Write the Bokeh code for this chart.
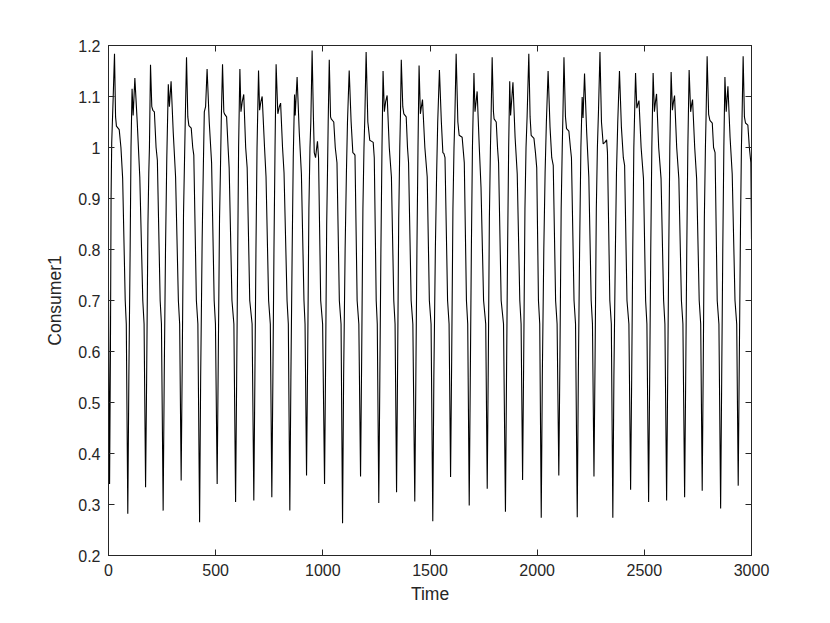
from bokeh.plotting import figure
from bokeh.models import LinearAxis, FixedTicker, CustomJSTickFormatter, Range1d
from bokeh.embed import file_html
from bokeh.resources import INLINE

# Time axis samples (one row per oscillation cycle)
time = [
    0, 5, 9, 12, 15, 22, 28, 33, 37, 50, 58, 66, 78, 83,
    90, 95, 101, 105, 110, 115, 123, 134, 146, 160, 166,
    173, 178, 184, 188, 191, 196, 202, 207, 214, 222, 228, 241, 247,
    255, 260, 266, 272, 279, 284, 292, 302, 313, 326, 332,
    339, 344, 350, 354, 358, 364, 370, 375, 386, 393, 398, 410, 417,
    425, 430, 437, 442, 447, 453, 460, 470, 481, 493, 499,
    507, 512, 518, 522, 526, 532, 538, 541, 551, 558, 563, 576, 585,
    593, 598, 603, 607, 613, 618, 624, 631, 640, 647, 659, 670,
    678, 683, 688, 693, 700, 705, 711, 717, 728, 735, 747, 755,
    762, 767, 772, 777, 782, 790, 797, 803, 812, 819, 833, 839,
    846, 851, 857, 862, 868, 871, 880, 890, 900, 912, 917,
    924, 929, 935, 940, 944, 950, 956, 960, 966, 970, 975, 980, 990, 999,
    1008, 1013, 1018, 1022, 1025, 1030, 1036, 1039, 1051, 1058, 1066, 1077, 1085,
    1092, 1097, 1104, 1110, 1115, 1123, 1132, 1140, 1145, 1150, 1160, 1168,
    1176, 1181, 1187, 1192, 1196, 1202, 1210, 1219, 1228, 1235, 1240, 1249, 1254,
    1261, 1266, 1271, 1276, 1281, 1287, 1293, 1300, 1310, 1320, 1331, 1337,
    1344, 1349, 1354, 1359, 1362, 1366, 1373, 1378, 1389, 1395, 1400, 1412, 1420,
    1429, 1434, 1439, 1444, 1449, 1455, 1460, 1465, 1476, 1487, 1497, 1505,
    1513, 1518, 1525, 1531, 1536, 1544, 1553, 1560, 1565, 1570, 1582, 1589,
    1596, 1601, 1607, 1612, 1616, 1622, 1630, 1636, 1650, 1656, 1660, 1670, 1676,
    1683, 1688, 1693, 1698, 1705, 1710, 1715, 1720, 1730, 1738, 1750, 1760,
    1767, 1772, 1777, 1782, 1785, 1790, 1796, 1799, 1809, 1815, 1820, 1832, 1843,
    1852, 1857, 1862, 1867, 1872, 1876, 1887, 1897, 1907, 1919, 1925,
    1932, 1937, 1943, 1948, 1953, 1961, 1967, 1972, 1985, 1992, 1998, 2006, 2012,
    2019, 2024, 2031, 2037, 2043, 2051, 2060, 2068, 2075, 2086, 2093,
    2101, 2106, 2112, 2117, 2120, 2125, 2132, 2137, 2148, 2155, 2160, 2172, 2179,
    2187, 2192, 2198, 2204, 2210, 2214, 2221, 2231, 2241, 2252, 2258,
    2265, 2270, 2276, 2281, 2286, 2293, 2300, 2308, 2316, 2324, 2328, 2339, 2346,
    2353, 2358, 2365, 2370, 2376, 2384, 2393, 2402, 2408, 2419, 2428,
    2436, 2441, 2446, 2451, 2459, 2465, 2470, 2475, 2485, 2496, 2506, 2512,
    2520, 2525, 2530, 2535, 2541, 2547, 2552, 2557, 2567, 2578, 2590, 2596,
    2604, 2609, 2614, 2619, 2625, 2631, 2636, 2641, 2651, 2661, 2673, 2680,
    2688, 2693, 2698, 2703, 2709, 2716, 2721, 2725, 2735, 2744, 2756, 2763,
    2770, 2775, 2780, 2785, 2788, 2793, 2800, 2806, 2817, 2823, 2830, 2840, 2848,
    2856, 2861, 2866, 2871, 2876, 2882, 2890, 2900, 2910, 2923, 2931,
    2938, 2943, 2949, 2953, 2956, 2961, 2967, 2972, 2983, 2990, 2997, 3000,
]

# Consumer1 values at those times
consumer1 = [
    0.72, 0.34, 0.60, 0.90, 1.01, 1.10, 1.184, 1.06, 1.042, 1.035, 1.0, 0.94, 0.70, 0.654,
    0.282, 0.55, 0.80, 1.0, 1.115, 1.063, 1.136, 1.05, 0.942, 0.70, 0.654,
    0.334, 0.55, 0.85, 0.95, 1.0, 1.162, 1.08, 1.073, 1.07, 1.0, 0.975, 0.70, 0.654,
    0.288, 0.55, 0.80, 0.98, 1.124, 1.08, 1.13, 1.03, 0.942, 0.70, 0.654,
    0.347, 0.58, 0.87, 0.96, 1.05, 1.177, 1.06, 1.043, 1.038, 1.0, 0.985, 0.70, 0.654,
    0.265, 0.55, 0.82, 0.95, 1.07, 1.08, 1.154, 1.05, 0.97, 0.70, 0.654,
    0.34, 0.58, 0.86, 0.95, 1.05, 1.163, 1.07, 1.066, 1.06, 1.0, 0.96, 0.70, 0.654,
    0.305, 0.55, 0.80, 1.0, 1.154, 1.07, 1.09, 1.104, 1.0, 0.96, 0.70, 0.654,
    0.308, 0.55, 0.80, 1.0, 1.151, 1.073, 1.09, 1.10, 1.0, 0.942, 0.70, 0.654,
    0.314, 0.55, 0.80, 1.0, 1.163, 1.066, 1.08, 1.087, 1.0, 0.95, 0.70, 0.654,
    0.288, 0.55, 0.80, 0.98, 1.104, 1.063, 1.138, 1.03, 0.948, 0.70, 0.654,
    0.357, 0.58, 0.88, 1.0, 1.05, 1.19, 1.06, 0.99, 0.98, 0.995, 1.012, 0.98, 0.70, 0.654,
    0.34, 0.58, 0.85, 0.96, 1.05, 1.172, 1.06, 1.056, 1.05, 1.0, 0.97, 0.70, 0.654,
    0.263, 0.55, 0.80, 0.95, 1.05, 1.151, 1.05, 0.99, 0.988, 0.985, 0.70, 0.654,
    0.355, 0.58, 0.88, 1.0, 1.06, 1.187, 1.05, 1.014, 1.012, 1.01, 0.98, 0.70, 0.654,
    0.303, 0.55, 0.80, 1.0, 1.15, 1.07, 1.09, 1.102, 1.0, 0.942, 0.70, 0.654,
    0.324, 0.58, 0.86, 1.0, 1.06, 1.172, 1.08, 1.066, 1.06, 1.0, 0.97, 0.70, 0.654,
    0.306, 0.55, 0.80, 1.0, 1.161, 1.066, 1.08, 1.094, 1.0, 0.942, 0.70, 0.654,
    0.267, 0.55, 0.80, 0.95, 1.05, 1.152, 1.05, 0.99, 0.988, 0.98, 0.70, 0.654,
    0.354, 0.58, 0.88, 1.0, 1.06, 1.184, 1.05, 1.024, 1.02, 0.99, 0.97, 0.70, 0.654,
    0.298, 0.55, 0.80, 1.0, 1.146, 1.07, 1.09, 1.11, 1.0, 0.922, 0.70, 0.654,
    0.331, 0.58, 0.86, 1.0, 1.06, 1.177, 1.07, 1.056, 1.05, 1.0, 0.97, 0.70, 0.654,
    0.286, 0.55, 0.80, 1.0, 1.13, 1.063, 1.128, 1.02, 0.948, 0.70, 0.654,
    0.348, 0.58, 0.88, 1.0, 1.06, 1.184, 1.06, 1.024, 1.018, 0.99, 0.96, 0.70, 0.654,
    0.274, 0.55, 0.80, 0.95, 1.05, 1.15, 1.04, 0.98, 0.965, 0.70, 0.654,
    0.357, 0.58, 0.88, 1.0, 1.06, 1.177, 1.06, 1.037, 1.032, 1.0, 0.98, 0.70, 0.654,
    0.275, 0.55, 0.80, 1.0, 1.099, 1.058, 1.145, 1.03, 0.942, 0.70, 0.654,
    0.355, 0.58, 0.88, 1.0, 1.07, 1.187, 1.05, 1.007, 1.01, 1.015, 0.99, 0.70, 0.654,
    0.274, 0.55, 0.80, 0.95, 1.05, 1.15, 1.04, 0.98, 0.965, 0.70, 0.654,
    0.329, 0.55, 0.80, 1.0, 1.146, 1.077, 1.085, 1.092, 1.0, 0.939, 0.70, 0.654,
    0.305, 0.55, 0.80, 1.0, 1.146, 1.07, 1.09, 1.105, 1.0, 0.939, 0.70, 0.654,
    0.308, 0.55, 0.80, 1.0, 1.148, 1.073, 1.09, 1.102, 1.0, 0.939, 0.70, 0.654,
    0.314, 0.55, 0.80, 1.0, 1.152, 1.07, 1.085, 1.094, 1.0, 0.939, 0.70, 0.654,
    0.327, 0.58, 0.86, 1.0, 1.06, 1.179, 1.065, 1.053, 1.048, 1.0, 0.99, 0.70, 0.654,
    0.292, 0.55, 0.80, 1.0, 1.138, 1.07, 1.12, 1.02, 0.948, 0.70, 0.654,
    0.337, 0.58, 0.86, 1.0, 1.06, 1.179, 1.06, 1.048, 1.044, 1.0, 0.97, 0.82,
]

x_ticks = [0, 500, 1000, 1500, 2000, 2500, 3000]
y_ticks = [0.2, 0.3, 0.4, 0.5, 0.6, 0.7, 0.8, 0.9, 1.0, 1.1, 1.2]
x_label = "Time"
y_label = "Consumer1"

assert len(time) == len(consumer1)

AX = "#262626"
FONT = "Liberation Sans"

p = figure(
    width=822, height=615,
    x_range=Range1d(0, 3000), y_range=Range1d(0.2, 1.2),
    output_backend="svg", toolbar_location=None,
    min_border_left=108, min_border_right=71,
    min_border_top=45, min_border_bottom=60,
    x_axis_label=x_label, y_axis_label=y_label,
)

p.line(time, consumer1, line_color="black", line_width=1.1)

p.grid.visible = False
p.outline_line_color = AX
p.outline_line_width = 1
p.background_fill_color = "white"
p.border_fill_color = "white"

yfmt = CustomJSTickFormatter(code="return (Math.round(tick*10)/10).toString();")
blank = CustomJSTickFormatter(code="return '';")

p.xaxis.ticker = FixedTicker(ticks=x_ticks)
p.yaxis.ticker = FixedTicker(ticks=y_ticks)
p.yaxis.formatter = yfmt

for ax in (p.xaxis[0], p.yaxis[0]):
    ax.axis_line_color = AX
    ax.major_tick_line_color = AX
    ax.major_tick_in = 6
    ax.major_tick_out = 0
    ax.minor_tick_line_color = None
    ax.major_label_text_color = AX
    ax.major_label_text_font = FONT
    ax.major_label_text_font_size = "16px"
    ax.axis_label_text_color = AX
    ax.axis_label_text_font = FONT
    ax.axis_label_text_font_size = "17.5px"
    ax.axis_label_text_font_style = "normal"

p.xaxis.major_label_standoff = 8
p.yaxis.major_label_standoff = 8
p.xaxis.axis_label_standoff = 5
p.yaxis.axis_label_standoff = 10

top = LinearAxis(ticker=FixedTicker(ticks=x_ticks), formatter=blank)
right = LinearAxis(ticker=FixedTicker(ticks=y_ticks), formatter=blank)
for ax in (top, right):
    ax.axis_line_color = AX
    ax.major_tick_line_color = AX
    ax.major_tick_in = 6
    ax.major_tick_out = 0
    ax.minor_tick_line_color = None
    ax.major_label_standoff = 0
p.add_layout(top, "above")
p.add_layout(right, "right")

open("out.html", "w").write(file_html(p, INLINE))
